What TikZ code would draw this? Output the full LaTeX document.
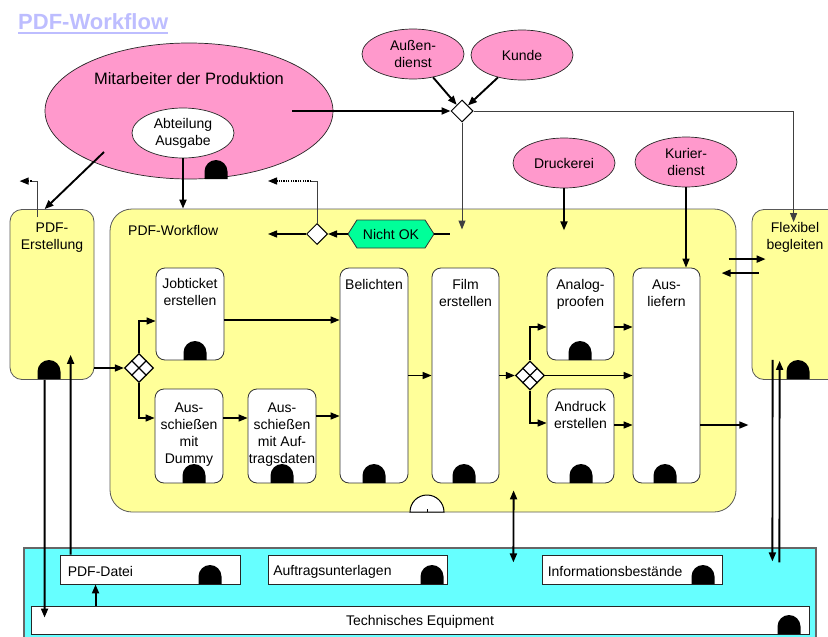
\documentclass[tikz,border=0pt]{standalone}
\usepackage{fontspec}
\setmainfont{Liberation Sans}
\usetikzlibrary{shapes.geometric,shapes.symbols,arrows.meta,calc}
\definecolor{prodpink}{HTML}{FF99CC}
\definecolor{procyellow}{HTML}{FFFF99}
\definecolor{rescyan}{HTML}{66FFFF}
\definecolor{eventgreen}{HTML}{00FF99}
\definecolor{titleblue}{HTML}{BDBDFF}
% resource marker: a small black arch standing on a base line
\newcommand{\archmark}[2]{\fill (#1-11.5,#2) -- ++(0,-7.5) arc[start angle=180,end angle=360,radius=11.5] -- ++(0,7.5) -- cycle;}
\begin{document}
\begin{tikzpicture}[x=1pt,y=-1pt,
  font=\fontsize{14}{17}\selectfont,
  >={Triangle[length=9pt,width=7pt]},
  conn/.style={line width=1.4pt,->},
  bold/.style={line width=1.9pt,->},
  fine/.style={line width=1pt,black!75},
  dotexit/.style={line width=1.3pt,dash pattern=on 1.2pt off 1.2pt,->},
  yelbox/.style={draw=black!65,line width=0.8pt,fill=procyellow,rounded corners=12pt,inner sep=0pt},
  wbox/.style={draw=black!80,line width=0.8pt,fill=white,rounded corners=9pt,inner sep=0pt},
  rbox/.style={draw=black!85,line width=0.9pt,fill=white,inner sep=0pt},
  ell/.style={ellipse,draw=black!85,line width=0.7pt,fill=prodpink,inner sep=0pt,minimum width=102pt,minimum height=50pt,align=center},
  gate/.style={diamond,draw,line width=1pt,fill=white,inner sep=0pt,minimum size=21pt},
  xgate/.style={diamond,draw,line width=1.3pt,fill=white,inner sep=0pt,minimum size=29pt},
  tl/.style={inner sep=0pt,align=center,anchor=north},
  rl/.style={inner sep=0pt,anchor=west,yshift=-2pt},
]
\useasboundingbox (0,0) rectangle (828,637);
\clip (0,0) rectangle (828,637);

% title
\node[anchor=base west,inner sep=0pt,text=titleblue,font=\fontsize{22}{26}\selectfont\bfseries] (title) at (18,30) {PDF-Workflow};
\draw[titleblue,line width=2pt] ($(title.base west)+(0,3)$) -- ($(title.base east)+(0,3)$);

% resources
\node[draw=black!60,line width=1.2pt,fill=rescyan,minimum width=792pt,minimum height=97pt,inner sep=0pt] (res) at (420,596.5) {};
\node[rbox,minimum width=180pt,minimum height=29pt,label={[rl,xshift=8pt]west:PDF-Datei}] (pdfd) at (150,569.5) {};
\node[rbox,minimum width=179pt,minimum height=29pt,label={[rl,xshift=5pt]west:Auftragsunterlagen}] (aufu) at (358,569.5) {};
\node[rbox,minimum width=180pt,minimum height=29pt,label={[rl,xshift=6pt]west:Informationsbestände}] (info) at (632,569.5) {};
\node[rbox,minimum width=778pt,minimum height=28pt,label={[inner sep=0pt,yshift=-2pt]center:Technisches Equipment}] (tech) at (420,620) {};

% processes
\node[yelbox,minimum width=626pt,minimum height=303pt,rounded corners=22pt] (wf) at (423,360.5) {};
\node[anchor=base west,inner sep=0pt] (wflabel) at (128,235) {PDF-Workflow};
\node[yelbox,minimum width=84pt,minimum height=170pt,label={[tl,yshift=-13.5pt]north:{PDF-\\Erstellung}}] (pdfe) at (52,294.5) {};
\node[yelbox,minimum width=100pt,minimum height=170pt,label={[tl,yshift=-13pt,xshift=-7pt]north:{Flexibel\\begleiten}}] (flex) at (802,294.5) {};

\node[wbox,minimum width=68pt,minimum height=92pt,label={[tl,yshift=-11pt]north:{Jobticket\\erstellen}}] (job) at (190,314) {};
\node[wbox,minimum width=68pt,minimum height=94pt,label={[tl,yshift=-14pt]north:{Aus-\\schießen\\mit\\Dummy}}] (dum) at (189,436) {};
\node[wbox,minimum width=68pt,minimum height=94pt,label={[tl,yshift=-14pt]north:{Aus-\\schießen\\mit Auf-\\tragsdaten}}] (auf) at (282,436) {};
\node[wbox,minimum width=68pt,minimum height=215pt,label={[tl,yshift=-12pt]north:{Belichten}}] (bel) at (374,375.5) {};
\node[wbox,minimum width=67pt,minimum height=215pt,label={[tl,yshift=-12pt]north:{Film\\erstellen}}] (film) at (465.5,375.5) {};
\node[wbox,minimum width=67pt,minimum height=92pt,label={[tl,yshift=-12pt]north:{Analog-\\proofen}}] (ana) at (580.5,314) {};
\node[wbox,minimum width=67pt,minimum height=94pt,label={[tl,yshift=-13pt]north:{Andruck\\erstellen}}] (andr) at (580.5,436) {};
\node[wbox,minimum width=67pt,minimum height=215pt,label={[tl,yshift=-12pt]north:{Aus-\\liefern}}] (ausl) at (666.5,375.5) {};

% organisational units
\node[ell,minimum width=288pt,minimum height=136pt,label={[inner sep=0pt,font=\fontsize{16.5}{19}\selectfont,yshift=32pt]center:Mitarbeiter der Produktion}] (prod) at (189,111) {};
\node[ell,fill=white] (abt) at (183,133) {Abteilung\\Ausgabe};
\node[ell] (aussen) at (413,54) {Außen-\\dienst};
\node[ell] (kunde) at (522,55) {Kunde};
\node[ell] (druck) at (564,163) {Druckerei};
\node[ell] (kurier) at (686,162) {Kurier-\\dienst};

% event and connectors
\node[draw=black!80,line width=0.8pt,fill=eventgreen,signal,signal to=west and east,signal pointer angle=115,minimum width=86pt,minimum height=28pt,inner sep=0pt] (nok) at (391,234) {Nicht OK};
\node[gate,minimum size=22pt] (d1) at (462,111) {};
\node[gate] (d2) at (317,234) {};
\node[xgate] (x1) at (139,368) {};
\node[xgate] (x2) at (530,375.5) {};
\foreach \g in {x1,x2}{
  \draw[line width=1.3pt] ($(\g.north)!.5!(\g.west)$) -- ($(\g.south)!.5!(\g.east)$);
  \draw[line width=1.3pt] ($(\g.north)!.5!(\g.east)$) -- ($(\g.south)!.5!(\g.west)$);
}

% flows at the top
\draw[bold] ($(prod.east)+(-41,0)$) -- (d1.west);
\draw[bold] (aussen) -- (d1);
\draw[bold] (kunde) -- (d1);
\draw[fine,->] (d1.east) -| ($(flex.north west)+(42,13)$);
\draw[fine,->] (d1.south) -- ($(d1.south)+(0,107)$);
\draw[bold] (druck.south) -- ++(0,42);
\draw[conn] (kurier.south) -- (kurier.south |- ausl.north);
\draw[bold] (abt.south) -- (abt.south |- wf.north);
\draw[bold] ($(prod.center)+(-85,41)$) -- ($(pdfe.north west)+(35,0)$);

% exits to other processes
\draw[fine] ($(pdfe.north west)+(28,8)$) -- ($(pdfe.north west)+(28,-28)$) -- ++(-6,0);
\draw[dotexit] ($(pdfe.north west)+(22,-28)$) -- ++(-12,0);
\draw[fine] (d2.north) -- ($(d2.north)+(0,-42)$) -- ++(-6,0);
\draw[dotexit] ($(d2.north)+(-6,-42)$) -- ++(-43,0);
\draw[conn] (nok.west) -- (d2.east);
\draw[conn] (d2.west) -- ++(-38,0);
\draw[line width=1.4pt] (nok.east) -- ++(16,0);

% workflow
\draw[conn] (x1.west -| pdfe.east) -- (x1.west);
\draw[conn] (x1.north) |- ([yshift=-7pt]job.west);
\draw[conn] (x1.south) |- ([yshift=18pt]dum.west);
\draw[conn] ([yshift=-6pt]job.east) -- ([yshift=-6pt]job.east -| bel.west);
\draw[conn] ([yshift=18pt]dum.east) -- ([yshift=18pt]dum.east -| auf.west);
\draw[conn] ([yshift=20pt]auf.east) -- ([yshift=20pt]auf.east -| bel.west);
\draw[conn] (bel.east) -- (film.west);
\draw[conn] (film.east) -- (x2.west);
\draw[conn] (x2.north) |- ([yshift=-13pt]ana.west);
\draw[conn] (x2.south) |- ([yshift=13pt]andr.west);
\draw[conn] (x2.east) -- (x2.east -| ausl.west);
\draw[conn] ([yshift=-13pt]ana.east) -- ([yshift=-13pt]ana.east -| ausl.west);
\draw[conn] ([yshift=11pt]andr.east) -- ([yshift=11pt]andr.east -| ausl.west);
\draw[conn] ([yshift=-49.5pt]ausl.east) -- ++(48,0);

% exchange with the accompanying process
\draw[bold] ($(flex.north west)+(-23,50)$) -- ++(37,0);
\draw[bold] ($(flex.north west)+(7,64)$) -- ++(-37,0);
\draw[bold] ($(flex.south west)+(21,-20)$) -- ($(res.north west)+(749,14)$);
\draw[bold] ($(res.north west)+(756,15)$) -- ($(flex.south west)+(28,-19)$);

% links to resources
\draw[bold] ($(pdfe.south west)+(35,0)$) -- ($(tech.north west)+(14,12)$);
\draw[bold] ($(pdfd.north west)+(11,0)$) -- ($(pdfe.south west)+(61,-25)$);
\draw[bold] ($(tech.north west)+(65,0)$) -- ($(pdfd.south west)+(36,0)$);
\draw[bold,<->] ($(wf.south west)+(404,-22)$) -- ($(res.north west)+(490,15)$);

% interface marker on the workflow
\draw[line width=1pt,fill=white] (410,512) arc[start angle=180,end angle=360,radius=17] -- cycle;
\draw[line width=0.8pt] (427,512) -- (427,509);

% resource markers
\archmark{216}{179}
\archmark{49}{379}
\archmark{798}{379}
\archmark{195}{360}
\archmark{194}{483}
\archmark{282}{483}
\archmark{374}{483}
\archmark{464}{483}
\archmark{580}{360}
\archmark{581}{483}
\archmark{665}{483}
\archmark{210}{584}
\archmark{432}{584}
\archmark{703}{584}
\archmark{789}{634}
\end{tikzpicture}
\end{document}
